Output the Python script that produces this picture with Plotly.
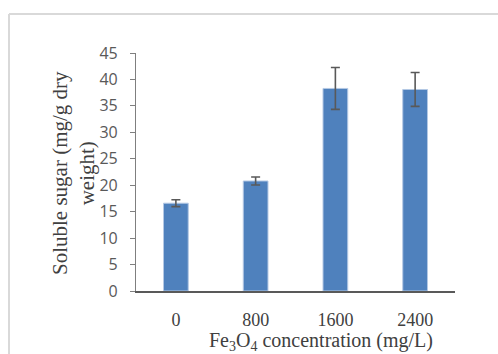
import plotly.graph_objects as go

# Soluble sugar content by Fe3O4 treatment level
concentrations = ["0", "800", "1600", "2400"]
sugar_mean = [16.6, 20.8, 38.3, 38.1]
sugar_err = [0.65, 0.75, 3.95, 3.2]
y_ticks = [0, 5, 10, 15, 20, 25, 30, 35, 40, 45]

W, H = 498, 354
ML, MR, MT, MB = 136, 43, 53, 63
PW, PH = W - ML - MR, H - MT - MB


def px_x(p):
    return (p - ML) / PW


def px_y(p):
    return (H - MB - p) / PH


fig = go.Figure(
    go.Bar(
        x=concentrations,
        y=sugar_mean,
        marker=dict(color="#4f81bd", line=dict(color="#b4c8e4", width=1)),
        error_y=dict(
            type="data",
            array=sugar_err,
            visible=True,
            color="#595959",
            thickness=1.6,
            width=4.5,
        ),
        showlegend=False,
    )
)

fig.update_layout(
    width=W,
    height=H,
    autosize=False,
    margin=dict(l=ML, r=MR, t=MT, b=MB),
    paper_bgcolor="white",
    plot_bgcolor="white",
    bargap=0.69,
    xaxis=dict(
        type="category",
        range=[-0.5, 3.5],
        showline=True,
        linecolor="#595959",
        linewidth=1.5,
        ticks="outside",
        ticklen=12,
        tickcolor="rgba(0,0,0,0)",
        tickfont=dict(family="Liberation Serif", size=18, color="#404040"),
        showgrid=False,
        zeroline=False,
    ),
    yaxis=dict(
        range=[0, 45],
        tickvals=y_ticks,
        showline=True,
        linecolor="#7f7f7f",
        linewidth=1.2,
        ticks="outside",
        ticklen=5,
        tickcolor="#7f7f7f",
        ticklabelstandoff=9,
        tickfont=dict(family="Open Sans", size=16, color="#595959"),
        showgrid=False,
        zeroline=False,
    ),
    annotations=[
        dict(
            text="Soluble sugar (mg/g dry<br>weight)",
            xref="paper", yref="paper",
            x=px_x(73), y=px_y(173),
            xanchor="center", yanchor="middle",
            textangle=-90,
            showarrow=False,
            font=dict(family="Liberation Serif", size=21, color="#404040"),
        ),
        dict(
            text="Fe<sub>3</sub>O<sub>4</sub> concentration (mg/L)",
            xref="paper", yref="paper",
            x=px_x(321), y=px_y(341),
            xanchor="center", yanchor="middle",
            showarrow=False,
            font=dict(family="Liberation Serif", size=20, color="#404040"),
        ),
    ],
    shapes=[
        dict(type="line", xref="paper", yref="paper",
             x0=px_x(9), x1=px_x(500), y0=px_y(14), y1=px_y(14),
             line=dict(color="#d9d9d9", width=2)),
        dict(type="line", xref="paper", yref="paper",
             x0=px_x(9), x1=px_x(9), y0=px_y(14), y1=px_y(356),
             line=dict(color="#d9d9d9", width=2)),
    ],
)

fig.write_html("out.html")
